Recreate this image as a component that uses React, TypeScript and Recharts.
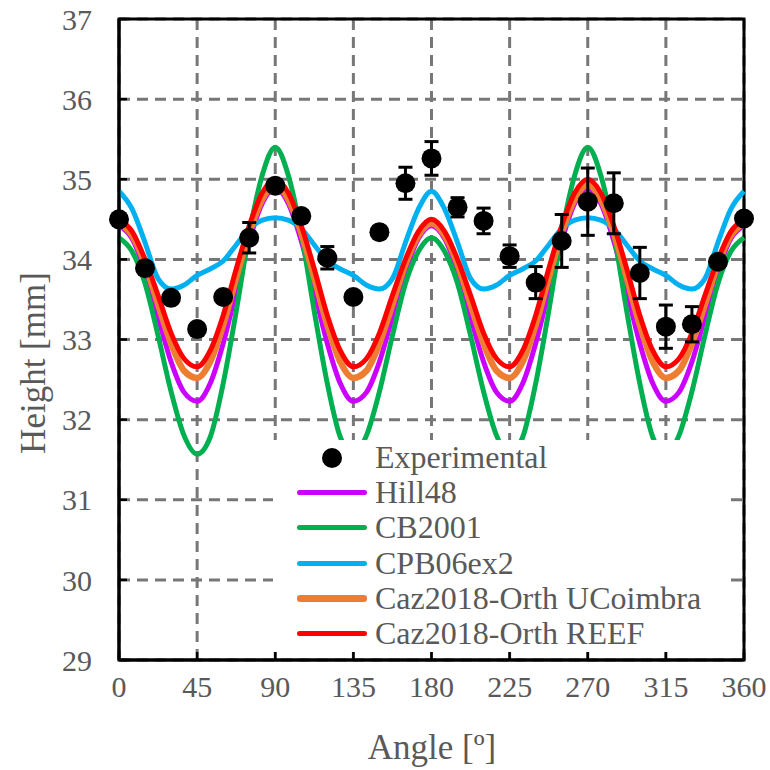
import React from "react";
import {
  ComposedChart,
  Line,
  Scatter,
  ErrorBar,
  XAxis,
  YAxis,
  CartesianGrid,
  Legend,
  ReferenceArea,
} from "recharts";

const FONT = '"Liberation Serif", "Times New Roman", serif';
const TEXT_GRAY = "#595959";

// model curves, sampled every 7.5 degrees
const ANGLES = [
  0, 7.5, 15, 22.5, 30, 37.5, 45, 52.5, 60, 67.5, 75, 82.5, 90, 97.5, 105, 112.5,
  120, 127.5, 135, 142.5, 150, 157.5, 165, 172.5, 180, 187.5, 195, 202.5, 210,
  217.5, 225, 232.5, 240, 247.5, 255, 262.5, 270, 277.5, 285, 292.5, 300, 307.5,
  315, 322.5, 330, 337.5, 345, 352.5, 360,
];

const HILL48 = [
  34.42, 34.26, 33.85, 33.28, 32.72, 32.34, 32.23, 32.45, 32.95, 33.6, 34.23, 34.7, 34.88,
  34.7, 34.23, 33.6, 32.95, 32.45, 32.23, 32.34, 32.72, 33.28, 33.85, 34.26, 34.42,
  34.26, 33.85, 33.28, 32.72, 32.34, 32.23, 32.45, 32.95, 33.6, 34.23, 34.7, 34.88,
  34.7, 34.23, 33.6, 32.95, 32.45, 32.23, 32.34, 32.72, 33.28, 33.85, 34.26, 34.42,
];

const CB2001 = [
  34.27, 34.1, 33.7, 33.05, 32.35, 31.8, 31.57, 31.78, 32.45, 33.35, 34.32, 35.05, 35.4,
  35.05, 34.32, 33.35, 32.45, 31.78, 31.57, 31.8, 32.35, 33.05, 33.7, 34.1, 34.27,
  34.1, 33.7, 33.05, 32.35, 31.8, 31.57, 31.78, 32.45, 33.35, 34.32, 35.05, 35.4,
  35.05, 34.32, 33.35, 32.45, 31.78, 31.57, 31.8, 32.35, 33.05, 33.7, 34.1, 34.27,
];

const CPB06EX2 = [
  34.85, 34.63, 34.21, 33.76, 33.63, 33.68, 33.8, 33.88, 33.98, 34.18, 34.38, 34.49, 34.52,
  34.49, 34.38, 34.18, 33.98, 33.88, 33.8, 33.68, 33.63, 33.76, 34.21, 34.63, 34.85,
  34.63, 34.21, 33.76, 33.63, 33.68, 33.8, 33.88, 33.98, 34.18, 34.38, 34.49, 34.52,
  34.49, 34.38, 34.18, 33.98, 33.88, 33.8, 33.68, 33.63, 33.76, 34.21, 34.63, 34.85,
];

const CAZ_UCOIMBRA = [
  34.45, 34.3, 33.94, 33.44, 32.95, 32.61, 32.52, 32.72, 33.18, 33.77, 34.33, 34.75, 34.93,
  34.75, 34.33, 33.77, 33.18, 32.72, 32.52, 32.61, 32.95, 33.44, 33.94, 34.3, 34.45,
  34.3, 33.94, 33.44, 32.95, 32.61, 32.52, 32.72, 33.18, 33.77, 34.33, 34.75, 34.93,
  34.75, 34.33, 33.77, 33.18, 32.72, 32.52, 32.61, 32.95, 33.44, 33.94, 34.3, 34.45,
];

const CAZ_REEF = [
  34.5, 34.35, 34.0, 33.55, 33.08, 32.76, 32.66, 32.86, 33.3, 33.88, 34.42, 34.83, 35.0,
  34.83, 34.42, 33.88, 33.3, 32.86, 32.66, 32.76, 33.08, 33.55, 34.0, 34.35, 34.5,
  34.35, 34.0, 33.55, 33.08, 32.76, 32.66, 32.86, 33.3, 33.88, 34.42, 34.83, 35.0,
  34.83, 34.42, 33.88, 33.3, 32.86, 32.66, 32.76, 33.08, 33.55, 34.0, 34.35, 34.5,
];

// experimental points every 15 degrees
const EXP_ANGLES = [
  0, 15, 30, 45, 60, 75, 90, 105, 120, 135, 150, 165, 180, 195, 210, 225, 240,
  255, 270, 285, 300, 315, 330, 345, 360,
];
const EXP_HEIGHT = [
  34.5, 33.89, 33.52, 33.13, 33.53, 34.27, 34.92, 34.54, 34.02, 33.53, 34.34,
  34.95, 35.26, 34.65, 34.48, 34.04, 33.71, 34.23, 34.72, 34.7, 33.83, 33.16,
  33.19, 33.97, 34.51,
];
const EXP_ERROR = [
  0, 0, 0, 0, 0, 0.19, 0.06, 0, 0.14, 0, 0, 0.2, 0.21, 0.12, 0.16, 0.14, 0.2,
  0.33, 0.42, 0.38, 0.32, 0.27, 0.22, 0, 0,
];

const X_TICKS = [0, 45, 90, 135, 180, 225, 270, 315, 360];
const Y_TICKS = [29, 30, 31, 32, 33, 34, 35, 36, 37];

const SERIES = [
  { key: "hill48", name: "Hill48", color: "#CC00FF", width: 5, values: HILL48 },
  { key: "cb2001", name: "CB2001", color: "#00B050", width: 5, values: CB2001 },
  { key: "cpb06", name: "CPB06ex2", color: "#00B0F0", width: 5, values: CPB06EX2 },
  { key: "cazUc", name: "Caz2018-Orth UCoimbra", color: "#ED7D31", width: 6.5, values: CAZ_UCOIMBRA },
  { key: "cazReef", name: "Caz2018-Orth REEF", color: "#FF0000", width: 5, values: CAZ_REEF },
];

const lineData = ANGLES.map((angle, i) => {
  const row: Record<string, number> = { angle };
  SERIES.forEach((s) => {
    row[s.key] = s.values[i];
  });
  return row;
});

const expData = EXP_ANGLES.map((angle, i) => ({
  angle,
  height: EXP_HEIGHT[i],
  err: EXP_ERROR[i],
}));

// heavier dashed grid, like the spreadsheet original
const gridCss = `
  .recharts-cartesian-grid line {
    stroke: #777777;
    stroke-width: 3px;
    stroke-dasharray: 11 7;
  }
`;

const LegendBox = () => (
  <div
    style={{
      background: "#fff",
      width: 453,
      height: 212,
      fontFamily: FONT,
      fontSize: 32,
      color: TEXT_GRAY,
    }}
  >
    <div style={{ display: "flex", alignItems: "center", height: 35.2 }}>
      <div style={{ marginLeft: 24, width: 70, display: "flex", justifyContent: "center" }}>
        <div style={{ width: 20, height: 20, borderRadius: "50%", background: "#000" }} />
      </div>
      <span style={{ marginLeft: 8, lineHeight: "35px", whiteSpace: "nowrap" }}>Experimental</span>
    </div>
    {SERIES.map((s) => (
      <div key={s.key} style={{ display: "flex", alignItems: "center", height: 35.2 }}>
        <div
          style={{
            marginLeft: 24,
            width: 70,
            height: s.width,
            borderRadius: 3,
            background: s.color,
          }}
        />
        <span style={{ marginLeft: 8, lineHeight: "35px", whiteSpace: "nowrap" }}>{s.name}</span>
      </div>
    ))}
  </div>
);

const YTitle = () => (
  <text
    x={33}
    y={363}
    transform="rotate(-90 33 363)"
    textAnchor="middle"
    dominantBaseline="central"
    fill={TEXT_GRAY}
    fontSize={35}
    fontFamily={FONT}
  >
    Height [mm]
  </text>
);

const XTitle = () => (
  <text
    x={432}
    y={747}
    textAnchor="middle"
    dominantBaseline="central"
    fill={TEXT_GRAY}
    fontSize={35}
    fontFamily={FONT}
  >
    Angle [º]
  </text>
);

const Dot = (props: any) => <circle cx={props.cx} cy={props.cy} r={10} fill="#000" />;

const App: React.FC = () => {
  const tickStyle = { fill: TEXT_GRAY, fontSize: 30, fontFamily: FONT };
  return (
    <div style={{ position: "absolute", left: 0, top: 0, background: "#fff" }}>
      <style>{gridCss}</style>
      <ComposedChart
        width={770}
        height={770}
        data={lineData}
        margin={{ top: 19, right: 26, left: 0, bottom: 0 }}
        style={{ fontFamily: FONT }}
      >
        <CartesianGrid stroke="#777777" strokeWidth={3} strokeDasharray="11 7" />
        <XAxis
          dataKey="angle"
          type="number"
          domain={[0, 360]}
          ticks={X_TICKS}
          interval={0}
          height={110}
          tickSize={-8}
          tickMargin={24}
          tick={tickStyle}
          axisLine={{ stroke: "#000", strokeWidth: 3 }}
          tickLine={{ stroke: "#000", strokeWidth: 2.5 }}
          label={() => <XTitle />}
        />
        <YAxis
          type="number"
          domain={[29, 37]}
          ticks={Y_TICKS}
          interval={0}
          width={119}
          tickSize={-8}
          tickMargin={35}
          tick={tickStyle}
          axisLine={{ stroke: "#000", strokeWidth: 3 }}
          tickLine={{ stroke: "#000", strokeWidth: 2.5 }}
          label={() => <YTitle />}
        />
        <ReferenceArea
          x1={0}
          x2={360}
          y1={29}
          y2={37}
          fill="none"
          stroke="#000"
          strokeWidth={3}
          ifOverflow="visible"
        />
        {SERIES.map((s) => (
          <Line
            key={s.key}
            dataKey={s.key}
            name={s.name}
            type="monotone"
            stroke={s.color}
            strokeWidth={s.width}
            dot={false}
            activeDot={false}
            isAnimationActive={false}
          />
        ))}
        <Scatter
          name="Experimental"
          data={expData}
          dataKey="height"
          fill="#000"
          shape={Dot}
          isAnimationActive={false}
        >
          <ErrorBar
            dataKey="err"
            direction="y"
            width={7}
            stroke="#000"
            strokeWidth={3}
            isAnimationActive={false}
          />
        </Scatter>
        <Legend
          layout="vertical"
          align="center"
          verticalAlign="middle"
          content={() => <LegendBox />}
          wrapperStyle={{ left: 273, top: 440, width: 453, height: 212 }}
        />
      </ComposedChart>
    </div>
  );
};

export default App;
